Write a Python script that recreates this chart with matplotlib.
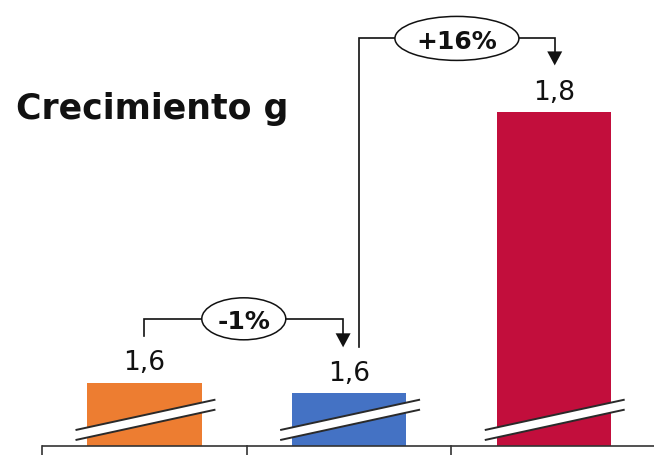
import numpy as np
import matplotlib
matplotlib.use("Agg")
import matplotlib.pyplot as plt
from matplotlib.patches import Ellipse, Polygon

# Growth values for the three periods (value axis is broken near the bottom)
values = [1.608, 1.600, 1.814]
bar_colors = ["#ED7D31", "#4472C4", "#C20E3C"]
change_labels = ["-1%", "+16%"]
title = "Crecimiento g"

W, H, DPI = 654, 456, 100
fig = plt.figure(figsize=(W / DPI, H / DPI), dpi=DPI)
ax = fig.add_axes([0, 0, 1, 1])
ax.set_axis_off()

y_floor = 1.5596          # value where the broken axis starts
x_lim = (-0.706, 2.490)
y_lim = (1.5530, 1.9004)
ax.set_xlim(*x_lim)
ax.set_ylim(*y_lim)

px_x = W / (x_lim[1] - x_lim[0])
px_y = H / (y_lim[1] - y_lim[0])


def dx(p):
    return p / px_x


def dy(p):
    return p / px_y


x = np.arange(len(values))
ax.bar(x, [v - y_floor for v in values], bottom=y_floor, width=0.558,
       color=bar_colors, zorder=2)

# category axis line with separators
ax.plot([-0.5, x_lim[1]], [y_floor, y_floor], color="#333333", lw=1.2,
        zorder=3, solid_capstyle="butt")
for xb in [-0.5, 0.5, 1.5]:
    ax.plot([xb, xb], [y_lim[0], y_floor], color="#333333", lw=1.2, zorder=3)

# axis-break marks across each bar
for xi in x:
    xl, xr = xi - dx(68), xi + dx(70)
    up_l, up_r = y_floor + dy(16.5), y_floor + dy(46.5)
    lo_l, lo_r = up_l - dy(10), up_r - dy(10)
    ax.add_patch(Polygon([(xl, up_l), (xr, up_r), (xr, lo_r), (xl, lo_l)],
                         closed=True, facecolor="white", edgecolor="none",
                         zorder=3))
    ax.plot([xl, xr], [up_l, up_r], color="#2a2a2a", lw=1.4, zorder=4)
    ax.plot([xl, xr], [lo_l, lo_r], color="#2a2a2a", lw=1.4, zorder=4)

# value labels
for xi, v in zip(x, values):
    ax.annotate(f"{v:.1f}".replace(".", ","), (xi, v),
                xytext=(0, 13.5 * 72 / DPI), textcoords="offset points",
                ha="center", va="baseline", fontsize=19,
                family="DejaVu Sans", color="#111111", zorder=5)


def bracket(x0, y0, x1, y1, y_line, label, e_w, e_h):
    head_len, head_half = dy(14), dx(7.5)
    ax.plot([x0, x0, x1, x1], [y0, y_line, y_line, y1 + head_len * 0.6],
            color="#111111", lw=1.2, zorder=5, solid_joinstyle="miter")
    ax.add_patch(Polygon([(x1, y1), (x1 - head_half, y1 + head_len),
                          (x1 + head_half, y1 + head_len)], closed=True,
                         facecolor="#111111", edgecolor="none", zorder=5))
    cx = (x0 + x1) / 2
    ax.add_patch(Ellipse((cx, y_line), dx(e_w), dy(e_h), facecolor="white",
                         edgecolor="#111111", lw=1.1, zorder=6))
    ax.text(cx, y_line, label, ha="center", va="center_baseline",
            fontsize=18, fontweight="bold", family="DejaVu Sans",
            color="#111111", zorder=7)


# -1% : first -> second bar
bracket(x[0], values[0] + dy(47), x[1] - dx(6), values[1] + dy(46),
        values[0] + dy(64), change_labels[0], 84, 42)
# +16% : second -> third bar
bracket(x[1] + dx(10), values[1] + dy(46), x[2] + dx(1), values[2] + dy(47),
        values[2] + dy(74), change_labels[1], 124, 44)

fig.text(16 / W, 1 - 119.5 / H, title, ha="left", va="baseline",
         fontsize=25, fontweight="bold", family="DejaVu Sans",
         color="#111111")

fig.savefig("out.png", dpi=DPI, facecolor="white")
